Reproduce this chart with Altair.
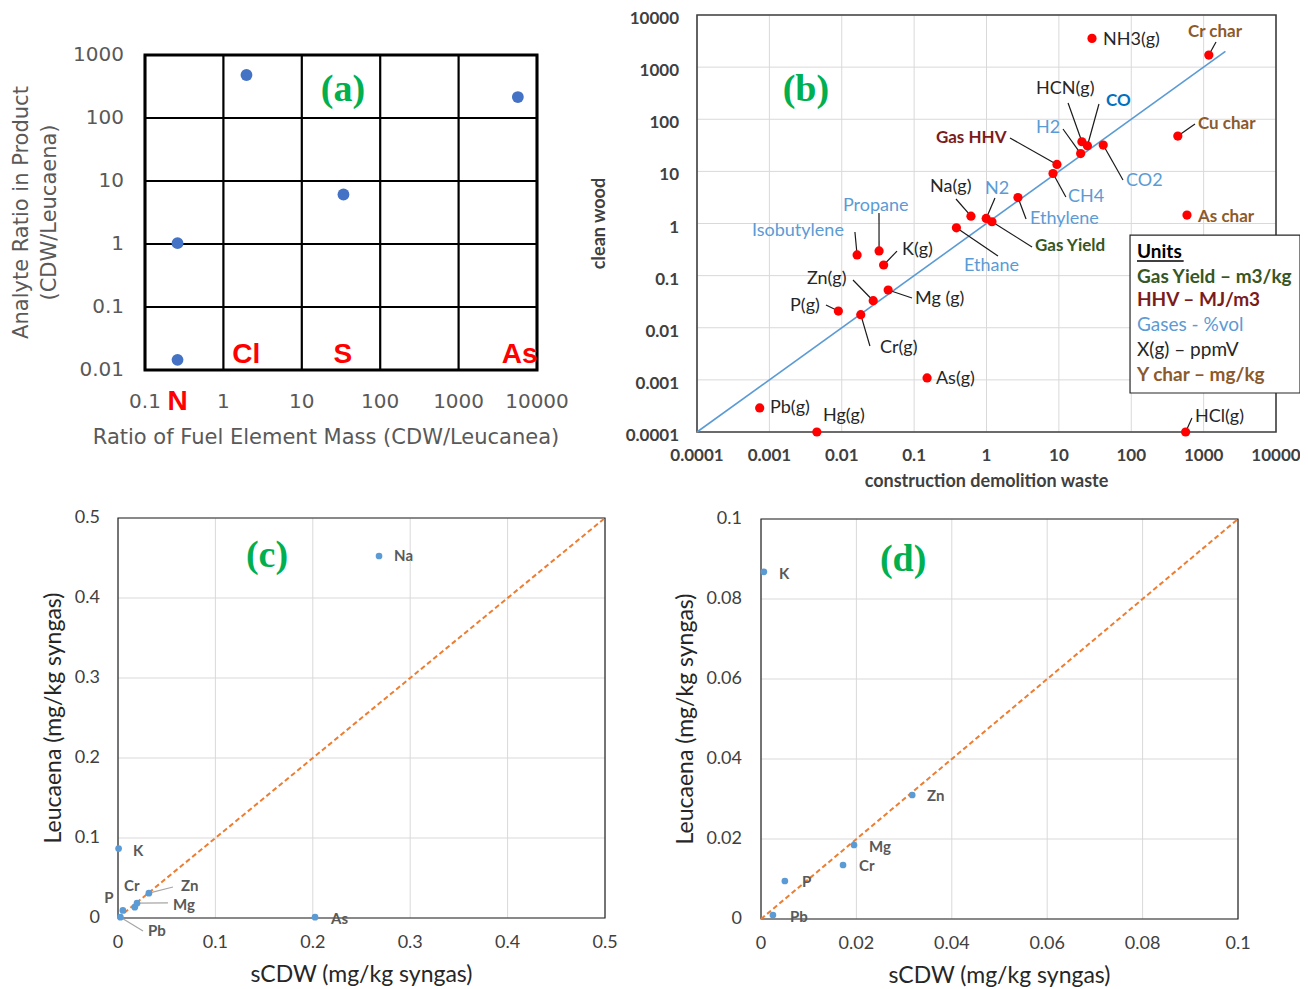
import altair as alt
import pandas as pd

W, H = 1292, 981

# ---------------- panel (a) ----------------
a_x = [0.26, 0.26, 1.97, 34.0, 5700.0]
a_y = [1.03, 0.0145, 482.0, 6.1, 215.0]
a_labels = ["N", "Cl", "S", "As"]
a_label_x = [0.26, 1.96, 33.5, 6000.0]
a_label_y = [0.0031, 0.0173, 0.0173, 0.0173]
a_xticks = [0.1, 1, 10, 100, 1000, 10000]
a_xtick_labels = ["0.1", "1", "10", "100", "1000", "10000"]
a_yticks = [0.01, 0.1, 1, 10, 100, 1000]
a_ytick_labels = ["0.01", "0.1", "1", "10", "100", "1000"]
a_xtitle = "Ratio of Fuel Element Mass (CDW/Leucanea)"
a_ytitle = ["Analyte Ratio in Product", "(CDW/Leucaena)"]
a_tag, a_tag_x, a_tag_y = ["(a)"], [33.5], [278.0]

# ---------------- panel (b) ----------------
b_names = ["NH3(g)", "Cr char", "HCN(g)", "CO", "H2", "CO2", "Gas HHV", "CH4",
           "Ethylene", "Na(g)", "N2", "Gas Yield", "Ethane", "Isobutylene",
           "Propane", "K(g)", "Zn(g)", "Mg (g)", "P(g)", "Cr(g)", "As(g)",
           "Pb(g)", "Hg(g)", "HCl(g)", "Cu char", "As char"]
b_cdw = [28.7, 1180, 20.8, 24.8, 20.0, 41.0, 9.4, 8.3, 2.72, 0.61, 0.99, 1.19,
         0.384, 0.0163, 0.0328, 0.0379, 0.0272, 0.0438, 0.00898, 0.0183, 0.151,
         0.000735, 0.00453, 564, 440, 589]
b_wood = [3560, 1706, 37.0, 31.0, 22.0, 32.0, 13.6, 9.1, 3.15, 1.38, 1.25, 1.08,
          0.826, 0.249, 0.298, 0.16, 0.033, 0.053, 0.0209, 0.0178, 0.00109,
          0.00029, 0.0001, 0.0001, 47.5, 1.45]
b_kind = ["ppmv", "char", "ppmv", "co", "gas", "gas", "hhv", "gas", "gas", "ppmv",
          "gas", "yield", "gas", "gas", "gas", "ppmv", "ppmv", "ppmv", "ppmv",
          "ppmv", "ppmv", "ppmv", "ppmv", "ppmv", "char", "char"]
b_label_x = [40.7, 608, 4.83, 44.8, 4.83, 84.8, 0.2, 13.4, 3.99, 0.166, 0.953, 4.68,
             0.489, 0.000575, 0.0104, 0.068, 0.0033, 0.103, 0.00193, 0.0337, 0.2,
             0.00102, 0.0055, 760, 836, 836]
b_label_y = [3310, 4720, 380, 224, 67.9, 6.53, 43.7, 3.22, 1.22, 5.01, 4.59, 0.37,
             0.153, 0.718, 2.17, 0.31, 0.0861, 0.0356, 0.0261, 0.00408, 0.00104,
             0.000288, 0.000203, 0.000194, 81, 1.33]
b_leader_x = [None, 1483, 13.4, 35.8, 11.4, 76.9, 2.11, 12.5, 3.52, 0.379, 1.31, 4.26,
              1.44, 0.0152, 0.0327, 0.058, 0.0143, 0.0935, 0.00605, 0.0245, None,
              None, None, 690, 760, None]
b_leader_y = [None, 3035, 205, 196, 65, 6.84, 43.7, 3.22, 1.22, 2.95, 3.08, 0.354,
              0.238, 0.687, 1.59, 0.296, 0.0824, 0.0372, 0.0273, 0.00447, None,
              None, None, 0.000186, 81, None]
b_ticks = [0.0001, 0.001, 0.01, 0.1, 1, 10, 100, 1000, 10000]
b_tick_labels = ["0.0001", "0.001", "0.01", "0.1", "1", "10", "100", "1000", "10000"]
b_xtitle = "construction demolition waste"
b_ytitle = "clean wood"
b_line = [0.0001, 2000]
b_units_text = ["Units", "Gas Yield – m3/kg", "HHV – MJ/m3", "Gases - %vol",
                "X(g) – ppmV", "Y char – mg/kg"]
b_units_kind = ["unit", "yield", "hhv", "gas", "ppmv", "char"]
b_units_x = [120] * 6
b_units_y = [0.284, 0.0942, 0.034, 0.0113, 0.00374, 0.00124]
b_box_x, b_box_x2, b_box_y, b_box_y2 = [96.2], [21480], [0.601], [0.00056]
b_uline_x, b_uline_x2, b_uline_y = [120], [530], [0.191]
b_tag, b_tag_x, b_tag_y = ["(b)"], [0.0032], [364.0]
kind_domain = ["ppmv", "gas", "co", "char", "hhv", "yield", "unit"]
kind_colors = ["#262626", "#5B9BD5", "#0070C0", "#8C5A2B", "#7B1C1C", "#375623", "#000000"]
bold_kinds = ["co", "char", "hhv", "yield", "unit"]
plain_kinds = ["ppmv", "gas"]

# ---------------- panels (c) and (d) ----------------
c_names = ["Na", "K", "As", "Zn", "Mg", "Cr", "P", "Pb"]
c_x = [0.268, 0.0006, 0.2023, 0.0317, 0.0195, 0.0172, 0.0050, 0.0025]
c_y = [0.4525, 0.0868, 0.001, 0.031, 0.0185, 0.0135, 0.0095, 0.001]
c_label_x = [0.2834, 0.0154, 0.2187, 0.0647, 0.0565, 0.0062, -0.0140, 0.0308]
c_label_y = [0.4525, 0.0838, -0.00125, 0.040, 0.016, 0.040, 0.025, -0.01625]
c_leader_x = [None, None, None, 0.0565, 0.0513, None, None, 0.0257]
c_leader_y = [None, None, None, 0.0388, 0.0188, None, None, -0.0163]
c_ticks = [0, 0.1, 0.2, 0.3, 0.4, 0.5]
c_tick_labels = ["0", "0.1", "0.2", "0.3", "0.4", "0.5"]
c_line = [0, 0.5]
c_tag, c_tag_x, c_tag_y = ["(c)"], [0.153], [0.4525]

d_names = ["K", "Zn", "Mg", "Cr", "P", "Pb"]
d_x = [0.0006, 0.0317, 0.0195, 0.0172, 0.0050, 0.0025]
d_y = [0.0868, 0.031, 0.0185, 0.0135, 0.0095, 0.001]
d_label_x = [0.00377, 0.0348, 0.02264, 0.02055, 0.0086, 0.00608]
d_label_y = [0.08625, 0.03075, 0.018, 0.01325, 0.00925, 0.0005]
d_ticks = [0, 0.02, 0.04, 0.06, 0.08, 0.1]
d_tick_labels = ["0", "0.02", "0.04", "0.06", "0.08", "0.1"]
d_line = [0, 0.1]
d_tag, d_tag_x, d_tag_y = ["(d)"], [0.0298], [0.08975]

cd_xtitle = "sCDW (mg/kg syngas)"
cd_ytitle = "Leucaena (mg/kg syngas)"


def enc(XS, YS, xf="x", yf="y"):
    return dict(x=alt.X(f"{xf}:Q", scale=XS, axis=None),
                y=alt.Y(f"{yf}:Q", scale=YS, axis=None))


def grid_layers(XS, YS, xt, yt, color, width):
    gv = pd.DataFrame({"x": xt, "y": yt[0], "y2": yt[-1]})
    gh = pd.DataFrame({"y": yt, "x": xt[0], "x2": xt[-1]})
    return [
        alt.Chart(gv).mark_rule(color=color, strokeWidth=width).encode(
            **enc(XS, YS), y2="y2:Q"),
        alt.Chart(gh).mark_rule(color=color, strokeWidth=width).encode(
            **enc(XS, YS), x2="x2:Q"),
    ]


def frame_layer(XS, YS, xt, yt, color, width):
    fr = pd.DataFrame({"x": [xt[0]], "x2": [xt[-1]], "y": [yt[0]], "y2": [yt[-1]]})
    return alt.Chart(fr).mark_rect(fillOpacity=0, stroke=color, strokeWidth=width).encode(
        **enc(XS, YS), x2="x2:Q", y2="y2:Q")


def tick_label_layers(XS, YS, xt, xl, yt, yl, xdy, ydx, style, ydy=0, xstyle=None):
    dfx = pd.DataFrame({"x": xt, "y": yt[0], "t": xl})
    dfy = pd.DataFrame({"y": yt, "x": xt[0], "t": yl})
    return [
        alt.Chart(dfx).mark_text(align="center", baseline="middle", dy=xdy,
                                 **(xstyle or style)).encode(**enc(XS, YS), text="t:N"),
        alt.Chart(dfy).mark_text(align="right", baseline="middle", dx=ydx, dy=ydy,
                                 **style).encode(**enc(XS, YS), text="t:N"),
    ]


def title_layers(XS, YS, xt, yt, xmid, ymid, xtitle, ytitles, xdx, xdy, ydys, style):
    dfx = pd.DataFrame({"x": [xmid], "y": [yt[0]], "t": [xtitle]})
    out = [alt.Chart(dfx).mark_text(align="center", baseline="middle", dx=xdx, dy=xdy,
                                    **style).encode(**enc(XS, YS), text="t:N")]
    for t, dy in zip(ytitles, ydys):
        dfy = pd.DataFrame({"x": [xt[0]], "y": [ymid], "t": [t]})
        out.append(alt.Chart(dfy).mark_text(align="center", baseline="middle", angle=270,
                                            dy=dy, **style).encode(**enc(XS, YS), text="t:N"))
    return out


def tag_layer(XS, YS, t, x, y, size):
    df = pd.DataFrame({"x": x, "y": y, "t": t})
    return alt.Chart(df).mark_text(font="Liberation Serif", fontWeight="bold",
                                   fontSize=size, color="#00B050", align="center",
                                   baseline="middle").encode(**enc(XS, YS), text="t:N")


# ================= (a) =================
AX = alt.Scale(type="log", domain=[a_xticks[0], a_xticks[-1]], range=[137, 529])
AY = alt.Scale(type="log", domain=[a_yticks[0], a_yticks[-1]], range=[362, 47])
a_style = dict(font="DejaVu Sans", fontSize=20, color="#595959")
a_tstyle = dict(font="DejaVu Sans", fontSize=21, color="#595959")
a_pts = pd.DataFrame({"x": a_x, "y": a_y})
a_lab = pd.DataFrame({"x": a_label_x, "y": a_label_y, "t": a_labels})
A = alt.layer(
    *grid_layers(AX, AY, a_xticks, a_yticks, "#000000", 2.2),
    frame_layer(AX, AY, a_xticks, a_yticks, "#000000", 3),
    alt.Chart(a_pts).mark_circle(size=140, color="#4472C4", opacity=1).encode(**enc(AX, AY)),
    *tick_label_layers(AX, AY, a_xticks, a_xtick_labels, a_yticks, a_ytick_labels,
                       32, -21, a_style),
    *title_layers(AX, AY, a_xticks, a_yticks, 31.62, 3.162, a_xtitle, a_ytitle,
                  -15, 68, [-123, -95], a_tstyle),
    alt.Chart(a_lab).mark_text(font="Liberation Sans", fontWeight="bold", fontSize=28,
                               color="#FF0000", align="center", baseline="middle").encode(
        **enc(AX, AY), text="t:N"),
    tag_layer(AX, AY, a_tag, a_tag_x, a_tag_y, 38),
)

# ================= (b) =================
BX = alt.Scale(type="log", domain=[b_ticks[0], b_ticks[-1]], range=[689, 1268])
BY = alt.Scale(type="log", domain=[b_ticks[0], b_ticks[-1]], range=[424, 7])
b_style = dict(font="Lato", fontWeight="bold", fontSize=17, color="#404040")
b_tstyle = dict(font="Lato", fontWeight="bold", fontSize=18, color="#404040")
b_df = pd.DataFrame({"x": b_cdw, "y": b_wood, "name": b_names, "kind": b_kind,
                     "lx": b_label_x, "ly": b_label_y,
                     "ex": b_leader_x, "ey": b_leader_y})
b_lead = b_df.dropna(subset=["ex", "ey"])
b_ln = pd.DataFrame({"x": b_line, "y": b_line})
b_units = pd.DataFrame({"x": b_units_x, "y": b_units_y, "t": b_units_text, "kind": b_units_kind})
b_box = pd.DataFrame({"x": b_box_x, "x2": b_box_x2, "y": b_box_y, "y2": b_box_y2})
b_ul = pd.DataFrame({"x": b_uline_x, "x2": b_uline_x2, "y": b_uline_y})
kind_scale = alt.Scale(domain=kind_domain, range=kind_colors)


def b_text(df, kinds, weight, size, tf, xf, yf):
    return alt.Chart(df).mark_text(font="Lato", fontWeight=weight, fontSize=size,
                                   align="left", baseline="middle").encode(
        **enc(BX, BY, xf=xf, yf=yf), text=f"{tf}:N",
        color=alt.Color("kind:N", scale=kind_scale, legend=None)).transform_filter(
        alt.FieldOneOfPredicate(field="kind", oneOf=kinds))


B = alt.layer(
    *grid_layers(BX, BY, b_ticks, b_ticks, "#D9D9D9", 1),
    frame_layer(BX, BY, b_ticks, b_ticks, "#404040", 1.6),
    alt.Chart(b_ln).mark_line(color="#5B9BD5", strokeWidth=1.6).encode(**enc(BX, BY)),
    alt.Chart(b_lead).mark_rule(color="#1a1a1a", strokeWidth=1.2).encode(
        **enc(BX, BY), x2="ex:Q", y2="ey:Q"),
    alt.Chart(b_df).mark_circle(size=85, color="#FF0000", opacity=1).encode(**enc(BX, BY)),
    *tick_label_layers(BX, BY, b_ticks, b_tick_labels, b_ticks, b_tick_labels,
                       24, -18, b_style, ydy=4),
    *title_layers(BX, BY, b_ticks, b_ticks, 1, 1, b_xtitle, [b_ytitle],
                  0, 50, [-97], b_tstyle),
    b_text(b_df, plain_kinds, "normal", 18, "name", "lx", "ly"),
    b_text(b_df, bold_kinds, "bold", 17, "name", "lx", "ly"),
    alt.Chart(b_box).mark_rect(fill="white", stroke="#262626", strokeWidth=1.2).encode(
        **enc(BX, BY), x2="x2:Q", y2="y2:Q"),
    b_text(b_units, plain_kinds, "normal", 19, "t", "x", "y"),
    b_text(b_units, bold_kinds, "bold", 19, "t", "x", "y"),
    alt.Chart(b_ul).mark_rule(color="#000000", strokeWidth=1.3).encode(
        **enc(BX, BY), x2="x2:Q"),
    tag_layer(BX, BY, b_tag, b_tag_x, b_tag_y, 38),
)


# ================= (c) and (d) =================
def scatter_panel(XS, YS, ticks, tick_labels, ydx, ytdy, names, xs, ys, lxs, lys, line,
                  tag, tx, ty, leaders=None):
    tstyle = dict(font="Lato", fontSize=18, color="#404040")
    ttl = dict(font="Lato", fontSize=23, color="#262626")
    df = pd.DataFrame({"x": xs, "y": ys, "name": names, "lx": lxs, "ly": lys})
    ln = pd.DataFrame({"x": line, "y": line})
    mid = (ticks[0] + ticks[-1]) / 2
    layers = grid_layers(XS, YS, ticks, ticks, "#D9D9D9", 1)
    layers.append(frame_layer(XS, YS, ticks, ticks, "#262626", 1.2))
    layers.append(alt.Chart(ln).mark_line(color="#ED7D31", strokeWidth=2,
                                          strokeDash=[5, 3]).encode(**enc(XS, YS)))
    if leaders is not None:
        ldf = pd.DataFrame({"x": xs, "y": ys, "ex": leaders[0], "ey": leaders[1]}).dropna()
        layers.append(alt.Chart(ldf).mark_rule(color="#A6A6A6", strokeWidth=1.2).encode(
            **enc(XS, YS), x2="ex:Q", y2="ey:Q"))
    layers.append(alt.Chart(df).mark_circle(size=45, color="#5B9BD5", opacity=1).encode(
        **enc(XS, YS)))
    layers += tick_label_layers(XS, YS, ticks, tick_labels, ticks, tick_labels,
                                25, ydx, tstyle)
    layers += title_layers(XS, YS, ticks, ticks, mid, mid, cd_xtitle, [cd_ytitle],
                           0, 57, [ytdy], ttl)
    layers.append(alt.Chart(df).mark_text(font="Lato", fontWeight="bold", fontSize=15,
                                          color="#595959", align="left",
                                          baseline="middle").encode(
        **enc(XS, YS, xf="lx", yf="ly"), text="name:N"))
    layers.append(tag_layer(XS, YS, tag, tx, ty, 38))
    return alt.layer(*layers)


CX = alt.Scale(domain=[c_ticks[0], c_ticks[-1]], range=[110, 597])
CY = alt.Scale(domain=[c_ticks[0], c_ticks[-1]], range=[910, 510])
C = scatter_panel(CX, CY, c_ticks, c_tick_labels, -18, -64, c_names, c_x, c_y,
                  c_label_x, c_label_y, c_line, c_tag, c_tag_x, c_tag_y,
                  leaders=(c_leader_x, c_leader_y))

DX = alt.Scale(domain=[d_ticks[0], d_ticks[-1]], range=[753, 1230])
DY = alt.Scale(domain=[d_ticks[0], d_ticks[-1]], range=[911, 511])
D = scatter_panel(DX, DY, d_ticks, d_tick_labels, -19, -75, d_names, d_x, d_y,
                  d_label_x, d_label_y, d_line, d_tag, d_tag_x, d_tag_y)

chart = alt.layer(A, B, C, D).resolve_scale(x="independent", y="independent").properties(
    width=W, height=H, padding=0, autosize=alt.AutoSizeParams(type="none")
).configure_view(stroke="transparent")

chart.save("out.html", embed_options={"renderer": "svg", "actions": False})
